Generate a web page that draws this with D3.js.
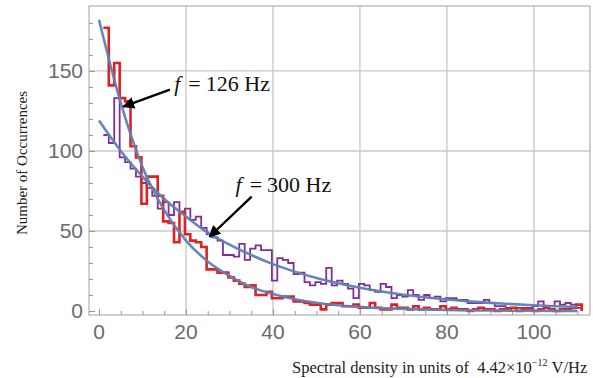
<!DOCTYPE html>
<html>
<head>
<meta charset="utf-8">
<script src="https://cdn.jsdelivr.net/npm/d3@7"></script>
<style>
  body { margin: 0; background: #fff; }
  svg { display: block; }
</style>
</head>
<body>
<svg id="chart" width="593" height="378"></svg>
<script>
// histogram bins: start 1, width 1.25 (88 bins)
const binStart = 1;
const binWidth = 1.25;

// f = 126 Hz counts
const counts126 = [177,141,155,133,131,103,96,67,84,84,72,56,55,43,62,48,44,43,40,26,
  26,24,24,21,19,17,15,16,10,10,12,8,8,9,9,6,6,5,4,4,
  1,4,5,5,3,3,4,2,2,5,2,1,1,4,2,2,1,3,1,2,
  1,1,3,1,2,1,1,0,1,2,1,1,0,1,1,2,0,1,1,0,
  1,2,1,0,1,1,2,4];

// f = 300 Hz counts
const counts300 = [110,105,133,96,93,89,84,80,77,72,64,68,60,68,62,64,57,59,52,48,
  46,44,35,35,34,42,32,39,41,38,38,19,33,32,30,23,24,18,16,18,
  17,27,16,19,17,14,8,17,16,13,12,17,15,8,10,9,13,10,7,10,
  8,9,6,8,8,7,7,5,5,5,7,5,3,3,2,2,2,2,2,3,
  6,3,3,6,4,5,4,2];

// fitted curves
const fitX = [0,5,10,15,20,25,30,35,40,45,50,55,60,65,70,75,80,85,90,95,100,105,110];
const fit126 = [182,130,90,63,44,31,22,15,10.6,7.4,5.2,3.6,2.6,1.8,1.3,0.9,0.6,0.4,0.3,0.2,0.15,0.1,0.08];
const fit300 = [119,100,84,70,59,49,41.5,35,29.3,24.6,20.6,17.3,14.5,12.2,10.2,8.6,7.2,6,5.1,4.3,3.6,3,2.5];

const xTicks = [0,20,40,60,80,100];
const yTicks = [0,50,100,150];

const svg = d3.select("#chart");
const x = d3.scaleLinear().domain([-2.3, 112.9]).range([89, 590]);
const y = d3.scaleLinear().domain([-2.5, 190.6]).range([315, 6]);

const gray = "#c8c8c8";

// grid
svg.append("g").selectAll("line")
  .data(xTicks.filter(d => d > 0))
  .join("line")
    .attr("x1", d => x(d)).attr("x2", d => x(d))
    .attr("y1", y.range()[0]).attr("y2", y.range()[1])
    .attr("stroke", gray).attr("stroke-width", 1.3);
svg.append("g").selectAll("line")
  .data(yTicks.filter(d => d > 0))
  .join("line")
    .attr("x1", x.range()[0]).attr("x2", x.range()[1])
    .attr("y1", d => y(d)).attr("y2", d => y(d))
    .attr("stroke", gray).attr("stroke-width", 1.3);

// frame
svg.append("rect")
  .attr("x", x.range()[0]).attr("y", y.range()[1])
  .attr("width", x.range()[1] - x.range()[0])
  .attr("height", y.range()[0] - y.range()[1])
  .attr("fill", "none").attr("stroke", "#a0a0a0").attr("stroke-width", 1);

// axes with inward ticks
const xAxis = d3.axisBottom(x).tickValues(d3.range(0, 115, 5))
  .tickSize(-4).tickFormat("");
const gx = svg.append("g").attr("transform", `translate(0,${y.range()[0]})`).call(xAxis);
gx.select(".domain").remove();
gx.selectAll("line").attr("stroke", "#999");
gx.selectAll(".tick").filter(d => d % 20 === 0).select("line").attr("y2", -6);

const yAxis = d3.axisLeft(y).tickValues(d3.range(0, 190, 10))
  .tickSize(-4).tickFormat("");
const gy = svg.append("g").attr("transform", `translate(${x.range()[0]},0)`).call(yAxis);
gy.select(".domain").remove();
gy.selectAll("line").attr("stroke", "#999");
gy.selectAll(".tick").filter(d => d % 50 === 0).select("line").attr("x2", 6);

// tick labels
const labelFont = "'Liberation Sans', Arial, sans-serif";
svg.append("g").selectAll("text")
  .data(xTicks)
  .join("text")
    .attr("x", d => x(d)).attr("y", 339)
    .attr("text-anchor", "middle")
    .attr("font-family", labelFont).attr("font-size", 21)
    .attr("fill", "#6a6a6a")
    .text(d => d);
svg.append("g").selectAll("text")
  .data(yTicks)
  .join("text")
    .attr("x", 83).attr("y", d => y(d) + 7.5)
    .attr("text-anchor", "end")
    .attr("font-family", labelFont).attr("font-size", 21)
    .attr("fill", "#6a6a6a")
    .text(d => d);

// histogram outlines (open at the left, dropping to zero at the right)
function stepPath(counts) {
  const pts = [];
  counts.forEach((c, i) => {
    const x0 = binStart + i * binWidth;
    pts.push([x0, c], [x0 + binWidth, c]);
  });
  pts.push([binStart + counts.length * binWidth, 0]);
  return d3.line().x(d => x(d[0])).y(d => y(d[1]))(pts);
}

svg.append("path")
  .attr("d", stepPath(counts300))
  .attr("fill", "none").attr("stroke", "#7f2f95").attr("stroke-width", 1.8)
  .attr("stroke-linejoin", "miter");
svg.append("path")
  .attr("d", stepPath(counts126))
  .attr("fill", "none").attr("stroke", "#e3201f").attr("stroke-width", 2.6)
  .attr("stroke-linejoin", "miter");

// fitted curves
const fitLine = d3.line().x(d => x(d[0])).y(d => y(d[1])).curve(d3.curveMonotoneX);
[fit300, fit126].forEach(vals => {
  svg.append("path")
    .attr("d", fitLine(fitX.map((v, i) => [v, vals[i]])))
    .attr("fill", "none").attr("stroke", "#5e81b5").attr("stroke-width", 2.6)
    .attr("stroke-opacity", 0.95);
});

// annotations
svg.append("defs").append("marker")
  .attr("id", "head").attr("viewBox", "0 0 10 10")
  .attr("refX", 9).attr("refY", 5)
  .attr("markerWidth", 5).attr("markerHeight", 5)
  .attr("orient", "auto")
  .append("path").attr("d", "M0,0 L10,5 L0,10 z").attr("fill", "#000");

const notes = [
  {label: "126 Hz", tx: 17.3, ty: 137.5, from: [16.3, 138.3], to: [5.6, 127.7]},
  {label: "300 Hz", tx: 31.4, ty: 74.4, from: [35.1, 71.4], to: [25.4, 46.4]}
];
const serif = "'Liberation Serif', 'Times New Roman', serif";
notes.forEach(n => {
  svg.append("line")
    .attr("x1", x(n.from[0])).attr("y1", y(n.from[1]))
    .attr("x2", x(n.to[0])).attr("y2", y(n.to[1]))
    .attr("stroke", "#000").attr("stroke-width", 2.4)
    .attr("marker-end", "url(#head)");
  const t = svg.append("text")
    .attr("x", x(n.tx)).attr("y", y(n.ty))
    .attr("font-family", serif).attr("font-size", 22).attr("fill", "#111");
  t.append("tspan").attr("font-style", "italic").text("f");
  t.append("tspan").attr("dx", 8).text("=");
  t.append("tspan").attr("dx", 5).text(n.label);
});

// axis titles
svg.append("text")
  .attr("transform", "translate(27,163) rotate(-90)")
  .attr("text-anchor", "middle")
  .attr("font-family", serif).attr("font-size", 15).attr("fill", "#222")
  .text("Number of Occurrences");

const xt = svg.append("text")
  .attr("x", 292).attr("y", 373)
  .attr("font-family", serif).attr("font-size", 16.5).attr("fill", "#222");
xt.append("tspan").text("Spectral density in units of\u00a0\u00a04.42\u00d710");
xt.append("tspan").attr("font-size", 10).attr("dy", -7).text("\u221212");
xt.append("tspan").attr("dy", 7).text("\u00a0V/Hz");
</script>
</body>
</html>
